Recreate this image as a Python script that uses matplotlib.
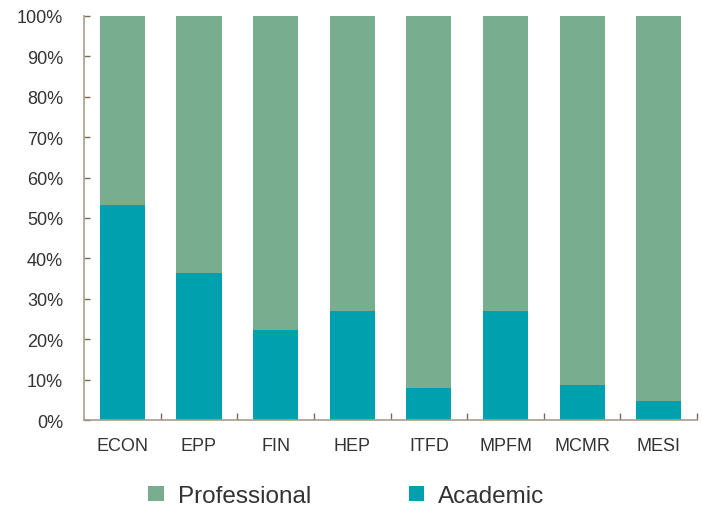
import numpy as np
import matplotlib.pyplot as plt
from matplotlib.ticker import FixedLocator, PercentFormatter

programmes = ['ECON', 'EPP', 'FIN', 'HEP', 'ITFD', 'MPFM', 'MCMR', 'MESI']
academic = [53.3, 36.4, 22.3, 27.0, 7.9, 27.0, 8.7, 4.7]
professional = [100 - a for a in academic]

plt.rcParams['font.family'] = ['Liberation Sans', 'DejaVu Sans']

fig = plt.figure(figsize=(7.02, 5.10), dpi=100)
ax = fig.add_axes([0.1197, 0.1745, 0.8733, 0.7922])

x = np.arange(len(programmes))
ax.bar(x, academic, width=0.59, color='#00a0af', label='Academic')
ax.bar(x, professional, width=0.59, bottom=academic, color='#78ad8f', label='Professional')

ax.set_xlim(-0.5, len(programmes) - 0.5)
ax.set_ylim(0, 100)
ax.set_yticks(np.arange(0, 101, 10))
ax.yaxis.set_major_formatter(PercentFormatter(decimals=0))
ax.set_xticks(x)
ax.set_xticklabels(programmes)
ax.xaxis.set_minor_locator(FixedLocator(np.arange(0.5, len(programmes), 1.0)))

for s in ['top', 'right']:
    ax.spines[s].set_visible(False)
for s in ['left', 'bottom']:
    ax.spines[s].set_color('#a89c8c')
    ax.spines[s].set_linewidth(1.2)

ax.tick_params(axis='y', direction='in', length=4.5, width=1, color='#7a6a5a',
               pad=15, labelsize=13, labelcolor='#333333')
ax.tick_params(axis='x', which='major', length=0, pad=12, labelsize=13, labelcolor='#333333')
ax.tick_params(axis='x', which='minor', direction='in', length=5, width=1, color='#7a6a5a')

handles, labels = ax.get_legend_handles_labels()
fig.legend(handles[::-1], labels[::-1], loc='center', bbox_to_anchor=(0.4936, 0.0255),
           ncol=2, frameon=False, fontsize=17.5, handlelength=0.62, handleheight=0.62,
           columnspacing=4.0, handletextpad=0.6, labelcolor='#333333')

fig.savefig('out.png', dpi=100)
